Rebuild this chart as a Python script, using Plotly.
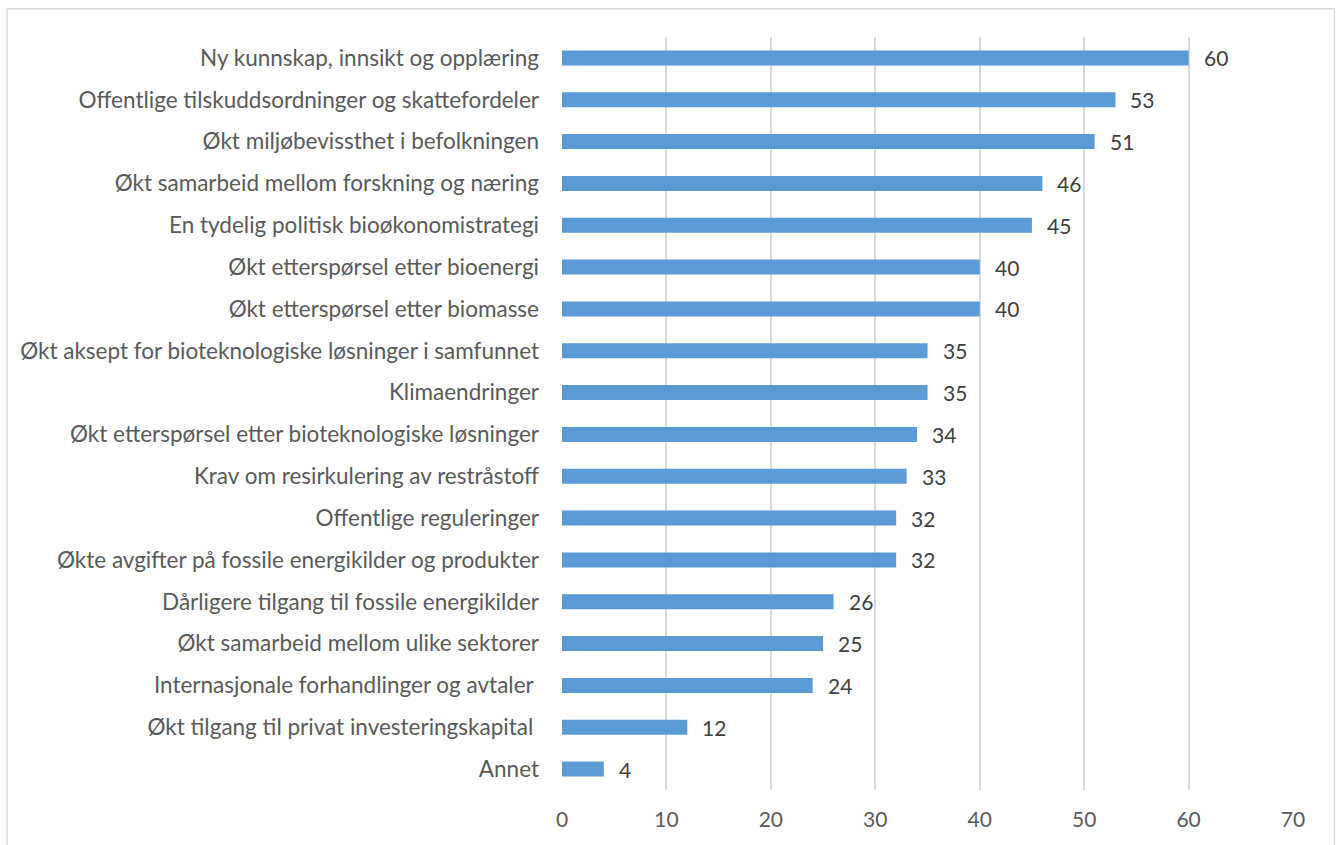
import plotly.graph_objects as go

# Survey factors (top to bottom) and number of responses
categories = [
    "Ny kunnskap, innsikt og opplæring",
    "Offentlige tilskuddsordninger og skattefordeler",
    "Økt miljøbevissthet i befolkningen",
    "Økt samarbeid mellom forskning og næring",
    "En tydelig politisk bioøkonomistrategi",
    "Økt etterspørsel etter bioenergi",
    "Økt etterspørsel etter biomasse",
    "Økt aksept for bioteknologiske løsninger i samfunnet",
    "Klimaendringer",
    "Økt etterspørsel etter bioteknologiske løsninger",
    "Krav om resirkulering av restråstoff",
    "Offentlige reguleringer",
    "Økte avgifter på fossile energikilder og produkter",
    "Dårligere tilgang til fossile energikilder",
    "Økt samarbeid mellom ulike sektorer",
    "Internasjonale forhandlinger og avtaler\u00a0",
    "Økt tilgang til privat investeringskapital\u00a0",
    "Annet",
]
values = [60, 53, 51, 46, 45, 40, 40, 35, 35, 34, 33, 32, 32, 26, 25, 24, 12, 4]
x_ticks = [0, 10, 20, 30, 40, 50, 60, 70]

FONT = "Lato, 'Open Sans', sans-serif"

fig = go.Figure(
    go.Bar(
        x=values,
        y=categories,
        orientation="h",
        marker=dict(color="#5B9BD5", line=dict(width=0)),
        width=0.36,
        hoverinfo="x+y",
    )
)

# value labels to the right of each bar
for cat, val in zip(categories, values):
    fig.add_annotation(
        x=val, y=cat, text=str(val), showarrow=False,
        xanchor="left", yanchor="middle", xshift=13,
        font=dict(family=FONT, size=21, color="#404040"),
    )

# thin frame around the whole chart
fig.add_shape(
    type="rect", xref="paper", yref="paper",
    x0=-0.7592, x1=1.0568, y0=-0.09, y1=1.0375,
    line=dict(color="#d9d9d9", width=1.3), fillcolor="rgba(0,0,0,0)",
    layer="below",
)

fig.update_layout(
    width=1341, height=845,
    margin=dict(l=562, r=48, t=37, b=55),
    paper_bgcolor="white", plot_bgcolor="white",
    showlegend=False,
    bargap=0.64,
    font=dict(family=FONT, size=21, color="#595959"),
    xaxis=dict(
        range=[0, 70], tickvals=x_ticks, ticktext=[str(t) for t in x_ticks],
        showgrid=True, gridcolor="#d9d9d9", gridwidth=1.6,
        zeroline=False, showline=False, ticks="",
        tickfont=dict(family=FONT, size=21, color="#595959"),
        ticklabelstandoff=15, fixedrange=True,
    ),
    yaxis=dict(
        categoryorder="array", categoryarray=categories,
        autorange="reversed",
        showgrid=False, zeroline=False, showline=False, ticks="",
        tickfont=dict(family=FONT, size=22.5, color="#595959"),
        ticklabelstandoff=22, fixedrange=True,
    ),
)

fig.write_html("out.html")
